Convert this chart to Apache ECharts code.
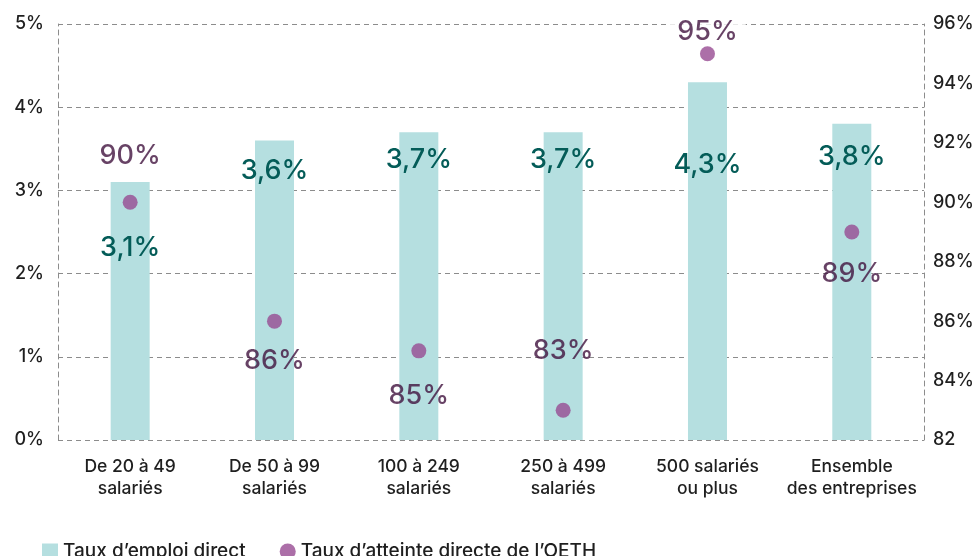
<!DOCTYPE html>
<html lang="fr">
<head>
<meta charset="utf-8">
<title>Taux d'emploi direct selon la taille de l'entreprise</title>
<script src="https://cdn.jsdelivr.net/npm/echarts@6/dist/echarts.min.js"></script>
<style>
  html, body { margin: 0; padding: 0; background: #ffffff; }
  #chart { width: 977px; height: 556px; }
</style>
</head>
<body>
<div id="chart"></div>
<script>
// Company size categories
const categories = [
  'De 20 à 49\nsalariés',
  'De 50 à 99\nsalariés',
  '100 à 249\nsalariés',
  '250 à 499\nsalariés',
  '500 salariés\nou plus',
  'Ensemble\ndes entreprises'
];

// Direct employment rate (%)
const tauxEmploiDirect = [3.1, 3.6, 3.7, 3.7, 4.3, 3.8];

// Share of companies directly meeting the OETH obligation (%)
const tauxAtteinteOETH = [90, 86, 85, 83, 95, 89];

// Axis tick labels
const leftTickLabels = ['0%', '1%', '2%', '3%', '4%', '5%'];
const rightTickLabels = ['82', '84%', '86%', '88%', '90%', '92%', '94%', '96%'];

const seriesNames = ['Taux d\u2019emploi direct', 'Taux d\u2019atteinte directe de l\u2019OETH'];

// Vertical placement of each value label, in px from the top of its mark
const barLabelDy = [66, 30, 28, 28, 83, 33];
const dotLabelDy = [-39, 47, 53, -52, -14, 49];

const FONT = 'Inter, "Noto Sans", sans-serif';
const TEXT = '#1f1f1f';
const gridLine = { color: '#8c8c8c', width: 1, type: [5, 4] };

const chart = echarts.init(document.getElementById('chart'), null, { renderer: 'canvas' });

chart.setOption({
  animation: false,
  textStyle: { fontFamily: FONT },
  grid: { left: 58, right: 53, top: 24, bottom: 116, containLabel: false },
  legend: {
    left: 37,
    top: 537,
    itemWidth: 16,
    itemHeight: 16,
    itemGap: 34,
    textStyle: { fontFamily: FONT, fontSize: 19, fontWeight: 500, color: TEXT },
    data: [
      { name: seriesNames[0], icon: 'rect' },
      { name: seriesNames[1], icon: 'circle' }
    ]
  },
  xAxis: {
    type: 'category',
    data: categories,
    axisLine: { show: false },
    axisTick: { show: false },
    axisLabel: {
      margin: 16,
      fontFamily: FONT,
      fontSize: 17.5,
      fontWeight: 500,
      lineHeight: 22,
      color: TEXT,
      interval: 0
    }
  },
  yAxis: [
    {
      type: 'value',
      min: 0,
      max: 5,
      interval: 1,
      axisLine: { show: true, lineStyle: gridLine },
      axisTick: { show: false },
      splitLine: { show: true, lineStyle: gridLine },
      axisLabel: {
        margin: 14,
        fontFamily: FONT,
        fontSize: 18,
        fontWeight: 500,
        color: TEXT,
        formatter: (v, i) => leftTickLabels[i]
      }
    },
    {
      type: 'value',
      min: 82,
      max: 96,
      interval: 2,
      position: 'right',
      axisLine: { show: true, lineStyle: gridLine },
      axisTick: { show: false },
      splitLine: { show: false },
      axisLabel: {
        margin: 9,
        fontFamily: FONT,
        fontSize: 18,
        fontWeight: 500,
        color: TEXT,
        formatter: (v, i) => rightTickLabels[i]
      }
    }
  ],
  series: [
    {
      name: seriesNames[0],
      type: 'bar',
      yAxisIndex: 0,
      barWidth: 39,
      itemStyle: { color: '#b5dfe0' },
      z: 2,
      data: tauxEmploiDirect.map((v, i) => ({
        value: v,
        label: { position: ['50%', barLabelDy[i]] }
      })),
      label: {
        show: true,
        align: 'center',
        verticalAlign: 'middle',
        fontFamily: FONT,
        fontSize: 27,
        fontWeight: 500,
        color: '#045c58',
        formatter: p => String(p.value).replace('.', ',') + '%'
      }
    },
    {
      name: seriesNames[1],
      type: 'scatter',
      yAxisIndex: 1,
      symbol: 'circle',
      symbolSize: 15,
      itemStyle: { color: '#974b92' },
      z: 3,
      data: tauxAtteinteOETH.map((v, i) => ({
        value: v,
        label: Object.assign(
          { position: ['50%', dotLabelDy[i]] },
          v === Math.max(...tauxAtteinteOETH)
            ? { backgroundColor: '#ffffff', padding: [0, 8] }
            : {}
        )
      })),
      label: {
        show: true,
        align: 'center',
        verticalAlign: 'middle',
        fontFamily: FONT,
        fontSize: 27,
        fontWeight: 500,
        color: '#41133e',
        formatter: p => p.value + '%'
      }
    }
  ]
});
</script>
</body>
</html>
